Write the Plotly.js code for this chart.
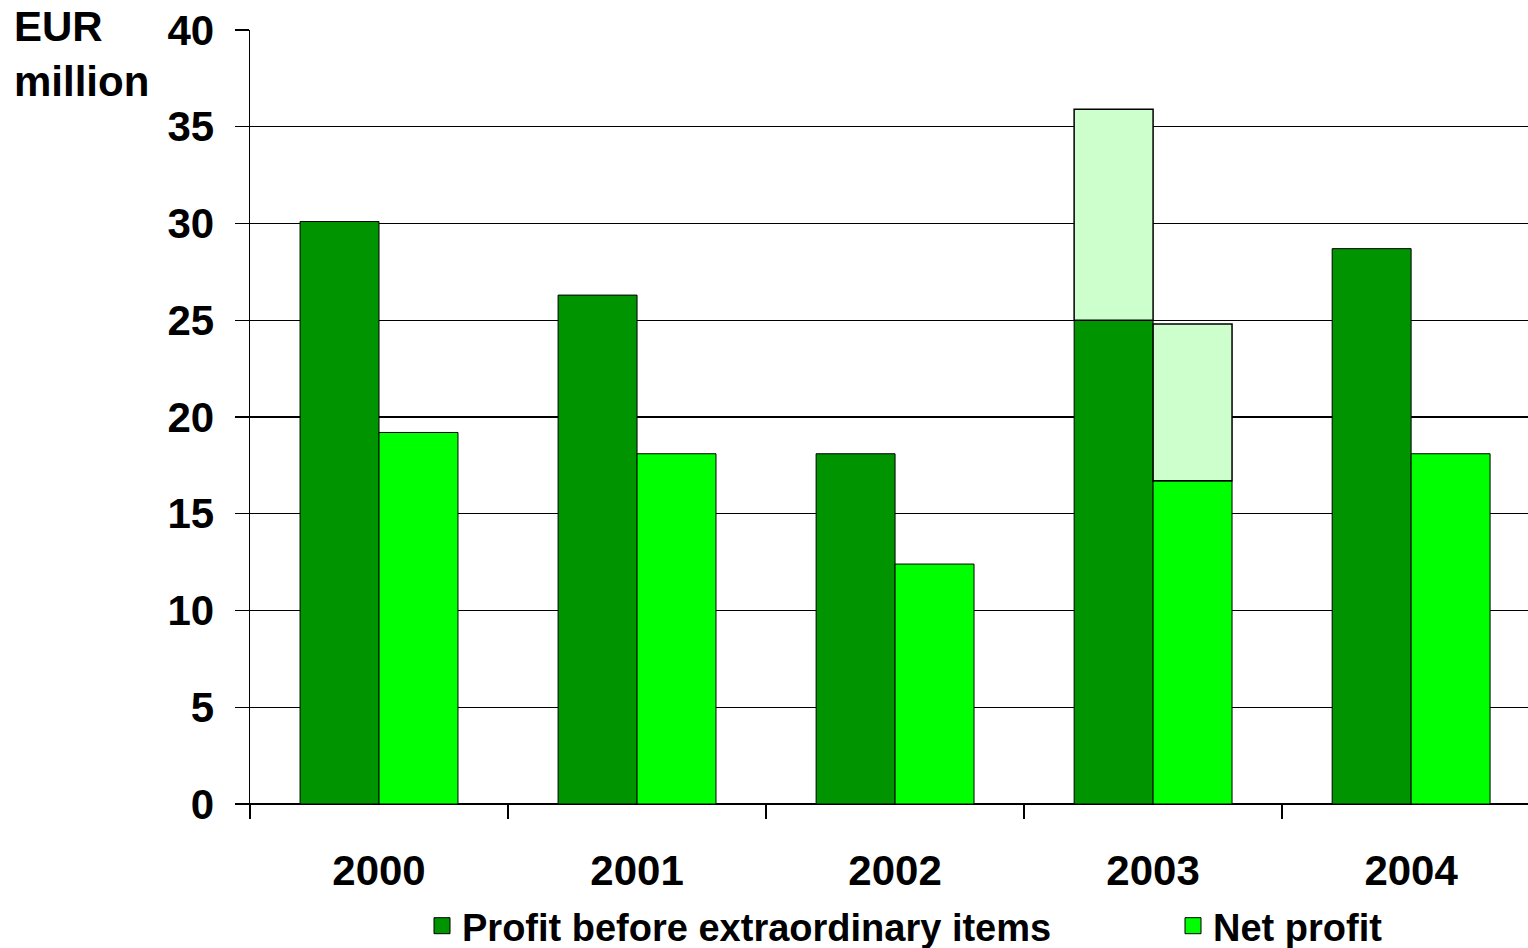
<!DOCTYPE html>
<html>
<head>
<meta charset="utf-8">
<script src="https://cdn.plot.ly/plotly-3.0.1.min.js"></script>
<style>
  html, body { margin: 0; padding: 0; background: #ffffff; }
  #chart { width: 1528px; height: 948px; }
</style>
</head>
<body>
<div id="chart"></div>
<script>
// Fiscal years
const years = ['2000', '2001', '2002', '2003', '2004'];

// EUR million
const profitBeforeExtraordinary = [30.1, 26.3, 18.1, 25.0, 28.7];
const netProfit = [19.2, 18.1, 12.4, 16.7, 18.1];

// 2003 totals including the extraordinary items (pale top segments)
const profitBeforeInclExtra = [null, null, null, 35.9, null];
const netProfitInclExtra = [null, null, null, 24.8, null];

const yTicks = [0, 5, 10, 15, 20, 25, 30, 35, 40];

const DARK = '#009400';
const LIGHT = '#00ff00';
const PALE = '#ccffcc';
const BAR_W = 0.306;
const FAMILY = 'Liberation Sans, Arial, sans-serif';
const FONT = { family: FAMILY, size: 42, color: '#000000', weight: 'bold' };
const LEGEND_FONT = { family: FAMILY, size: 38, color: '#000000', weight: 'bold' };
const LINE_W = 1.4;

// plot area in pixels
const W = 1528, H = 948;
const M = { l: 250, r: 0, t: 30, b: 144 };
const plotW = W - M.l - M.r, plotH = H - M.t - M.b;
const px2x = px => (px - M.l) / plotW;
const px2y = py => (H - M.b - py) / plotH;

const extraOf = (totals, base) => totals.map((t, i) => (t === null ? null : +(t - base[i]).toFixed(2)));

const barLine = { color: '#000000', width: 1 };
const paleLine = { color: '#000000', width: 1.5 };

const traces = [
  {
    type: 'bar', name: 'Profit before extraordinary items', showlegend: false,
    x: years, y: profitBeforeExtraordinary,
    width: BAR_W, offset: -BAR_W,
    marker: { color: DARK, line: barLine }
  },
  {
    type: 'bar', name: 'Net profit', showlegend: false,
    x: years, y: netProfit,
    width: BAR_W, offset: 0,
    marker: { color: LIGHT, line: barLine }
  },
  {
    type: 'bar', name: 'Extraordinary items (before)', showlegend: false,
    x: years, y: extraOf(profitBeforeInclExtra, profitBeforeExtraordinary),
    base: profitBeforeExtraordinary,
    width: BAR_W, offset: -BAR_W,
    marker: { color: PALE, line: paleLine }
  },
  {
    type: 'bar', name: 'Extraordinary items (net)', showlegend: false,
    x: years, y: extraOf(netProfitInclExtra, netProfit),
    base: netProfit,
    width: BAR_W, offset: 0,
    marker: { color: PALE, line: paleLine }
  },
  // legend keys with larger square swatches
  {
    type: 'scatter', mode: 'markers', name: 'Profit before extraordinary items',
    legend: 'legend', x: [null], y: [null], hoverinfo: 'skip',
    marker: { symbol: 'square', size: 16, color: DARK, line: { color: '#000000', width: 1 } }
  },
  {
    type: 'scatter', mode: 'markers', name: 'Net profit',
    legend: 'legend2', x: [null], y: [null], hoverinfo: 'skip',
    marker: { symbol: 'square', size: 16, color: LIGHT, line: { color: '#000000', width: 1 } }
  }
];

const legendBase = {
  orientation: 'h',
  xanchor: 'left',
  yanchor: 'middle',
  y: px2y(926),
  font: LEGEND_FONT,
  itemwidth: 30,
  itemsizing: 'trace',
  bgcolor: 'rgba(0,0,0,0)',
  borderwidth: 0
};

const layout = {
  width: W, height: H,
  margin: { l: M.l, r: M.r, t: M.t, b: M.b, pad: 0, autoexpand: false },
  paper_bgcolor: '#ffffff', plot_bgcolor: '#ffffff',
  barmode: 'overlay',
  font: FONT,
  annotations: [{
    text: 'EUR<br>million',
    xref: 'paper', yref: 'paper',
    x: px2x(12), xanchor: 'left',
    y: px2y(1), yanchor: 'top',
    align: 'left', showarrow: false,
    font: FONT
  }],
  xaxis: {
    type: 'category',
    range: [-0.5, 4.453],
    tickson: 'boundaries',
    ticks: 'outside', ticklen: 14, tickwidth: LINE_W, tickcolor: '#000000',
    ticklabelstandoff: 29,
    showline: true, linecolor: '#000000', linewidth: LINE_W,
    showgrid: false, zeroline: false,
    tickfont: FONT, fixedrange: true
  },
  yaxis: {
    range: [0, 40],
    tickvals: yTicks, ticktext: yTicks.map(String),
    ticks: 'outside', ticklen: 14, tickwidth: LINE_W, tickcolor: '#000000',
    ticklabelstandoff: 12,
    showline: true, linecolor: '#000000', linewidth: LINE_W,
    showgrid: true, gridcolor: '#000000', gridwidth: LINE_W,
    zeroline: true, zerolinecolor: '#000000', zerolinewidth: LINE_W,
    tickfont: FONT, fixedrange: true
  },
  showlegend: true,
  legend: Object.assign({}, legendBase, { x: px2x(422) }),
  legend2: Object.assign({}, legendBase, { x: px2x(1173) })
};

Plotly.newPlot('chart', traces, layout, { displayModeBar: false, staticPlot: true });
</script>
</body>
</html>
